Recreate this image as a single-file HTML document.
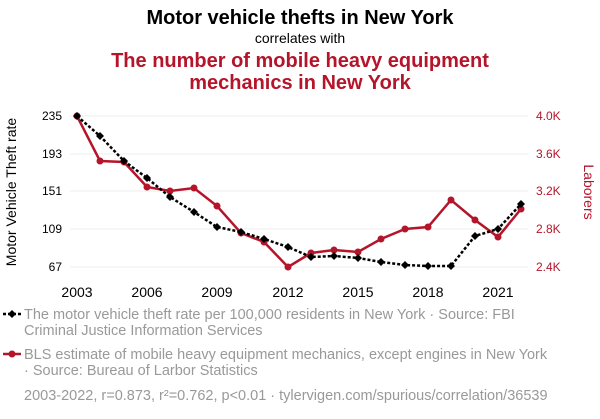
<!DOCTYPE html>
<html><head><meta charset="utf-8"><style>
body{margin:0;background:#fff;width:600px;height:414px;overflow:hidden;font-family:"Liberation Sans",Arial,sans-serif}
</style></head><body>
<svg width="600" height="414" xmlns="http://www.w3.org/2000/svg" font-family="Liberation Sans, Arial, sans-serif">
<text x="300" y="24" text-anchor="middle" font-size="20" font-weight="bold" fill="#000">Motor vehicle thefts in New York</text>
<text x="300" y="43" text-anchor="middle" font-size="14" fill="#000">correlates with</text>
<text x="300" y="67" text-anchor="middle" font-size="20" font-weight="bold" fill="#b5152b">The number of mobile heavy equipment</text>
<text x="300" y="89" text-anchor="middle" font-size="20" font-weight="bold" fill="#b5152b">mechanics in New York</text>
<g stroke="#eee" stroke-width="1">
<line x1="70" x2="528" y1="116" y2="116"/><line x1="70" x2="528" y1="154" y2="154"/><line x1="70" x2="528" y1="191" y2="191"/><line x1="70" x2="528" y1="229" y2="229"/><line x1="70" x2="528" y1="267" y2="267"/>
</g>
<g font-size="12" fill="#000" text-anchor="end">
<text x="62" y="120">235</text><text x="62" y="158">193</text><text x="62" y="195">151</text><text x="62" y="233">109</text><text x="62" y="271">67</text>
</g>
<g font-size="12" fill="#b5152b">
<text x="536" y="120">4.0K</text><text x="536" y="158">3.6K</text><text x="536" y="195">3.2K</text><text x="536" y="233">2.8K</text><text x="536" y="271">2.4K</text>
</g>
<g font-size="14" fill="#000" text-anchor="middle">
<text x="77" y="297">2003</text><text x="147" y="297">2006</text><text x="217" y="297">2009</text><text x="288" y="297">2012</text><text x="358" y="297">2015</text><text x="428" y="297">2018</text><text x="498" y="297">2021</text>
</g>
<text transform="translate(16,192) rotate(-90)" text-anchor="middle" font-size="14" fill="#000">Motor Vehicle Theft rate</text>
<text transform="translate(584,192) rotate(90)" text-anchor="middle" font-size="14" fill="#b5152b">Laborers</text>
<polyline fill="none" stroke="#b5152b" stroke-width="2.5" points="77,116 100,161 124,162 147,187 170,191 194,188 217,206 241,233 264,242 288,267 311,253 334,250 358,252 381,239 405,229 428,227 451,200 475,220 498,237 521,209"/>
<g fill="#b5152b">
<circle cx="77" cy="116" r="3.5"/><circle cx="100" cy="161" r="3.5"/><circle cx="124" cy="162" r="3.5"/><circle cx="147" cy="187" r="3.5"/><circle cx="170" cy="191" r="3.5"/><circle cx="194" cy="188" r="3.5"/><circle cx="217" cy="206" r="3.5"/><circle cx="241" cy="233" r="3.5"/><circle cx="264" cy="242" r="3.5"/><circle cx="288" cy="267" r="3.5"/><circle cx="311" cy="253" r="3.5"/><circle cx="334" cy="250" r="3.5"/><circle cx="358" cy="252" r="3.5"/><circle cx="381" cy="239" r="3.5"/><circle cx="405" cy="229" r="3.5"/><circle cx="428" cy="227" r="3.5"/><circle cx="451" cy="200" r="3.5"/><circle cx="475" cy="220" r="3.5"/><circle cx="498" cy="237" r="3.5"/><circle cx="521" cy="209" r="3.5"/>
</g>
<polyline fill="none" stroke="#000" stroke-width="2.5" stroke-dasharray="3,2" points="77,116 100,136 124,161 147,178 170,197 194,212 217,227 241,232 264,239 288,247 311,257 334,256 358,258 381,262 405,265 428,266 451,266 475,236 498,229 521,204"/>
<g fill="#000">
<path d="M77,112l4,4l-4,4l-4,-4z"/><path d="M100,132l4,4l-4,4l-4,-4z"/><path d="M124,157l4,4l-4,4l-4,-4z"/><path d="M147,174l4,4l-4,4l-4,-4z"/><path d="M170,193l4,4l-4,4l-4,-4z"/><path d="M194,208l4,4l-4,4l-4,-4z"/><path d="M217,223l4,4l-4,4l-4,-4z"/><path d="M241,228l4,4l-4,4l-4,-4z"/><path d="M264,235l4,4l-4,4l-4,-4z"/><path d="M288,243l4,4l-4,4l-4,-4z"/><path d="M311,253l4,4l-4,4l-4,-4z"/><path d="M334,252l4,4l-4,4l-4,-4z"/><path d="M358,254l4,4l-4,4l-4,-4z"/><path d="M381,258l4,4l-4,4l-4,-4z"/><path d="M405,261l4,4l-4,4l-4,-4z"/><path d="M428,262l4,4l-4,4l-4,-4z"/><path d="M451,262l4,4l-4,4l-4,-4z"/><path d="M475,232l4,4l-4,4l-4,-4z"/><path d="M498,225l4,4l-4,4l-4,-4z"/><path d="M521,200l4,4l-4,4l-4,-4z"/>
</g>
<line x1="3" x2="21" y1="314" y2="314" stroke="#000" stroke-width="2.5" stroke-dasharray="3,2"/>
<path d="M12,310l4,4l-4,4l-4,-4z" fill="#000"/>
<line x1="3" x2="21" y1="354" y2="354" stroke="#b5152b" stroke-width="2.5"/>
<circle cx="12" cy="354" r="3.5" fill="#b5152b"/>
<g font-size="14.5" fill="#999">
<text x="24" y="319">The motor vehicle theft rate per 100,000 residents in New York · Source: FBI</text>
<text x="24" y="335">Criminal Justice Information Services</text>
<text x="24" y="359">BLS estimate of mobile heavy equipment mechanics, except engines in New York</text>
<text x="24" y="375">· Source: Bureau of Larbor Statistics</text>
<text x="24" y="400">2003-2022, r=0.873, r²=0.762, p&lt;0.01 · tylervigen.com/spurious/correlation/36539</text>
</g>
</svg>
</body></html>
